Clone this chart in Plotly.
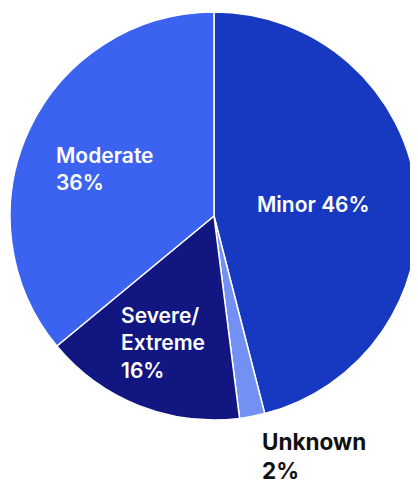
import plotly.graph_objects as go

# page body has an 8px margin, so the figure is drawn 8px smaller
W, H = 410, 475

# slice data (clockwise from 12 o'clock)
severity = ["Minor", "Unknown", "Severe/Extreme", "Moderate"]
share = [46, 2, 16, 36]
label_text = ["Minor 46%", "Unknown<br>2%", "Severe/<br>Extreme<br>16%", "Moderate<br>36%"]
colors = ["#1738c0", "#7390f4", "#121680", "#3b63f0"]
text_colors = ["white", "#111111", "white", "white"]
text_sizes = [21, 22.5, 21, 21]
text_weights = [600, 700, 600, 600]

# label top-left corners in figure pixels
label_pos = [(247, 182), (252, 418), (111, 293), (46, 133)]

fig = go.Figure(go.Pie(
    labels=severity,
    values=share,
    sort=False,
    direction="clockwise",
    rotation=0,
    marker=dict(colors=colors, line=dict(color="white", width=1.5)),
    textinfo="none",
    hoverinfo="label+percent",
    domain=dict(x=[2 / W, 1.0], y=[1 - 414 / H, 1 - 2 / H]),
    showlegend=False,
))

for txt, col, sz, wt, (px_, py_) in zip(label_text, text_colors, text_sizes,
                                        text_weights, label_pos):
    fig.add_annotation(
        x=px_ / W, y=1 - py_ / H, xref="paper", yref="paper",
        xanchor="left", yanchor="top", align="left",
        text=txt, showarrow=False,
        font=dict(family="Inter", size=sz, color=col, weight=wt),
    )

fig.update_layout(
    width=W, height=H,
    margin=dict(l=0, r=0, t=0, b=0),
    paper_bgcolor="white",
    plot_bgcolor="white",
)

fig.write_html("out.html")
